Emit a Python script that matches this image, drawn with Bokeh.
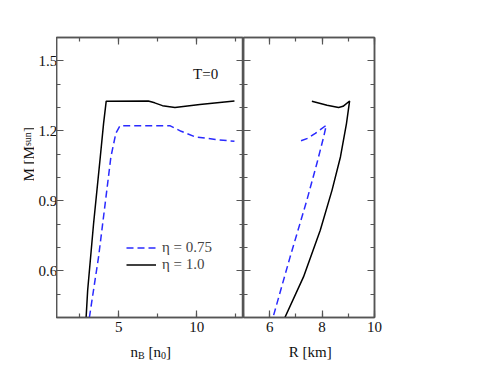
import math
from bokeh.plotting import figure
from bokeh.layouts import row, column
from bokeh.models import (LinearAxis, SingleIntervalTicker, Range1d, Label,
                          Legend, LegendItem)
from bokeh.embed import file_html
from bokeh.resources import INLINE

# ---- data ----
nB_eta1 = [2.90, 3.00, 3.38, 3.81, 4.02, 4.19, 6.89, 7.30, 7.80, 8.60, 10.20, 12.42]
M_nB_eta1 = [0.40, 0.517, 0.803, 1.088, 1.231, 1.327, 1.328, 1.320, 1.308, 1.300, 1.313, 1.328]

nB_eta075 = [3.11, 3.70, 4.23, 4.49, 4.81, 5.08, 8.27, 9.00, 9.90, 11.20, 12.42]
M_nB_eta075 = [0.40, 0.66, 0.946, 1.088, 1.190, 1.222, 1.222, 1.198, 1.174, 1.163, 1.155]

R_eta1 = [6.56, 7.29, 7.93, 8.38, 8.70, 8.93, 9.05, 8.80, 8.63, 8.19, 7.61]
M_R_eta1 = [0.395, 0.574, 0.774, 0.946, 1.088, 1.231, 1.328, 1.305, 1.300, 1.310, 1.327]

R_eta075 = [6.15, 6.78, 7.42, 7.80, 8.06, 8.16, 7.74, 7.45, 7.19]
M_R_eta075 = [0.41, 0.66, 0.903, 1.06, 1.174, 1.224, 1.189, 1.168, 1.157]

legend_labels = ["\u03b7 = 0.75", "\u03b7 = 1.0"]

FONT = "Liberation Serif"
FS = "15px"
AX = "#555555"
TXT = "#111111"
BLUE = "#2a2aff"
TOP, FH, BOT = 37, 280, 24
H = TOP + FH + BOT      # height of the chart row
TW = 34                 # width of the strip holding the y title
YW = 22                 # width of the strip holding the y tick labels
XH = 25                 # height of the strip holding the x-axis titles

def style_axis(ax, show_labels=True):
    ax.axis_line_color = AX
    ax.axis_line_width = 1.5
    ax.major_tick_line_color = AX
    ax.minor_tick_line_color = AX
    ax.major_tick_line_width = 1.2
    ax.minor_tick_line_width = 1.2
    ax.major_tick_in = 7
    ax.major_tick_out = 0
    ax.minor_tick_in = 4
    ax.minor_tick_out = 0
    ax.major_label_text_font = FONT
    if show_labels:
        ax.major_label_text_font_size = FS
        ax.major_label_text_color = TXT
        ax.major_label_standoff = 4
    else:
        ax.major_label_text_font_size = "0px"
        ax.major_label_text_color = None
        ax.major_label_standoff = 0
    ax.axis_label = None

def make_fig(xr, width, br, xint, xminor):
    p = figure(width=width, height=H, x_range=xr,
               y_range=Range1d(0.4, 1.6), output_backend="svg",
               toolbar_location=None, x_axis_location=None, y_axis_location=None,
               min_border_left=0, min_border_right=br, min_border_top=TOP,
               min_border_bottom=BOT)
    p.grid.visible = False
    p.outline_line_color = AX
    p.outline_line_width = 1.5
    yt = SingleIntervalTicker(interval=0.3, num_minor_ticks=3)
    xt = SingleIntervalTicker(interval=xint, num_minor_ticks=xminor)
    return p, xt, yt

def strip(width, height):
    p = figure(width=width, height=height, x_range=Range1d(0, 1), y_range=Range1d(0, 1),
               output_backend="svg", toolbar_location=None,
               x_axis_location=None, y_axis_location=None,
               min_border_left=0, min_border_right=0, min_border_top=0,
               min_border_bottom=0)
    p.grid.visible = False
    p.outline_line_color = None
    return p

def lab(p, x, y, t, size=FS, angle=0.0):
    p.add_layout(Label(x=x, y=y, x_units="screen", y_units="screen", text=t,
                       text_font=FONT, text_font_size=size,
                       text_color=TXT, text_baseline="alphabetic",
                       text_align="left", angle=angle))

# ---------- left panel ----------
p1, xt1, yt1 = make_fig(Range1d(1, 13), 187, 0, 5, 2)
ax = LinearAxis(ticker=xt1); style_axis(ax); p1.add_layout(ax, "below")
ax = LinearAxis(ticker=xt1); style_axis(ax, False); p1.add_layout(ax, "above")
ax = LinearAxis(ticker=yt1); style_axis(ax, False); p1.add_layout(ax, "left")
ax = LinearAxis(ticker=yt1); style_axis(ax, False); p1.add_layout(ax, "right")

r_b = p1.line(nB_eta075, M_nB_eta075, line_color=BLUE, line_width=1.5, line_dash="7 4")
r_k = p1.line(nB_eta1, M_nB_eta1, line_color="black", line_width=1.5)

legend = Legend(items=[LegendItem(label=legend_labels[0], renderers=[r_b]),
                       LegendItem(label=legend_labels[1], renderers=[r_k])],
                location=(70, 44), padding=0, margin=0, spacing=0,
                glyph_width=30, glyph_height=15, label_height=15,
                label_standoff=6, border_line_color=None,
                background_fill_alpha=0, label_text_font=FONT,
                label_text_font_size=FS)
p1.add_layout(legend, "center")

p1.add_layout(Label(x=9.76, y=1.443, text="T=0", text_font=FONT, text_font_size=FS,
                    text_color=TXT, text_baseline="alphabetic"))

# ---------- right panel ----------
p2, xt2, yt2 = make_fig(Range1d(5, 10), 131 + 40, 40, 2, 2)
ax = LinearAxis(ticker=xt2); style_axis(ax); p2.add_layout(ax, "below")
ax = LinearAxis(ticker=xt2); style_axis(ax, False); p2.add_layout(ax, "above")
ax = LinearAxis(ticker=yt2); style_axis(ax, False); p2.add_layout(ax, "left")
ax = LinearAxis(ticker=yt2); style_axis(ax, False); p2.add_layout(ax, "right")

p2.line(R_eta075, M_R_eta075, line_color=BLUE, line_width=1.5, line_dash="7 4")
p2.line(R_eta1, M_R_eta1, line_color="black", line_width=1.5)

# ---------- strip with y tick labels ----------
py = figure(width=YW, height=H, x_range=Range1d(0, 1), y_range=Range1d(0.4, 1.6),
            output_backend="svg", toolbar_location=None,
            x_axis_location=None, y_axis_location=None,
            min_border_left=0, min_border_right=YW - 1, min_border_top=TOP,
            min_border_bottom=BOT)
py.grid.visible = False
py.outline_line_color = None
yax = LinearAxis(ticker=SingleIntervalTicker(interval=0.3))
yax.axis_line_color = None
yax.major_tick_line_color = None
yax.minor_tick_line_color = None
yax.major_tick_in = 0
yax.major_tick_out = 0
yax.major_label_standoff = 0
yax.major_label_text_font = FONT
yax.major_label_text_font_size = FS
yax.major_label_text_color = TXT
py.add_layout(yax, "right")

# ---------- strip with the y title  M [M_sun] ----------
pt = strip(TW, H)
lab(pt, 28.5, H - 205.0, "M [M", angle=math.pi / 2)
lab(pt, 26.5, H - 169.6, "sun", "10px", angle=math.pi / 2)
lab(pt, 28.5, H - 155.5, "]", angle=math.pi / 2)

# ---------- bottom strip: n_B [n_0]   R [km] ----------
px = strip(TW + YW + 187 + 131 + 40, XH)
yb = H + XH - 351.7
ys = H + XH - 355.0
lab(px, 130.0, yb, "n")
lab(px, 137.5, ys, "B", "10px")
lab(px, 148.0, yb, "[n")
lab(px, 160.4, ys, "0", "10px")
lab(px, 165.4, yb, "]")
lab(px, 288.3, yb, "R [km]")

layout = column(row(pt, py, p1, p2, spacing=0), px, spacing=0)
open("out.html", "w").write(file_html(layout, INLINE))
